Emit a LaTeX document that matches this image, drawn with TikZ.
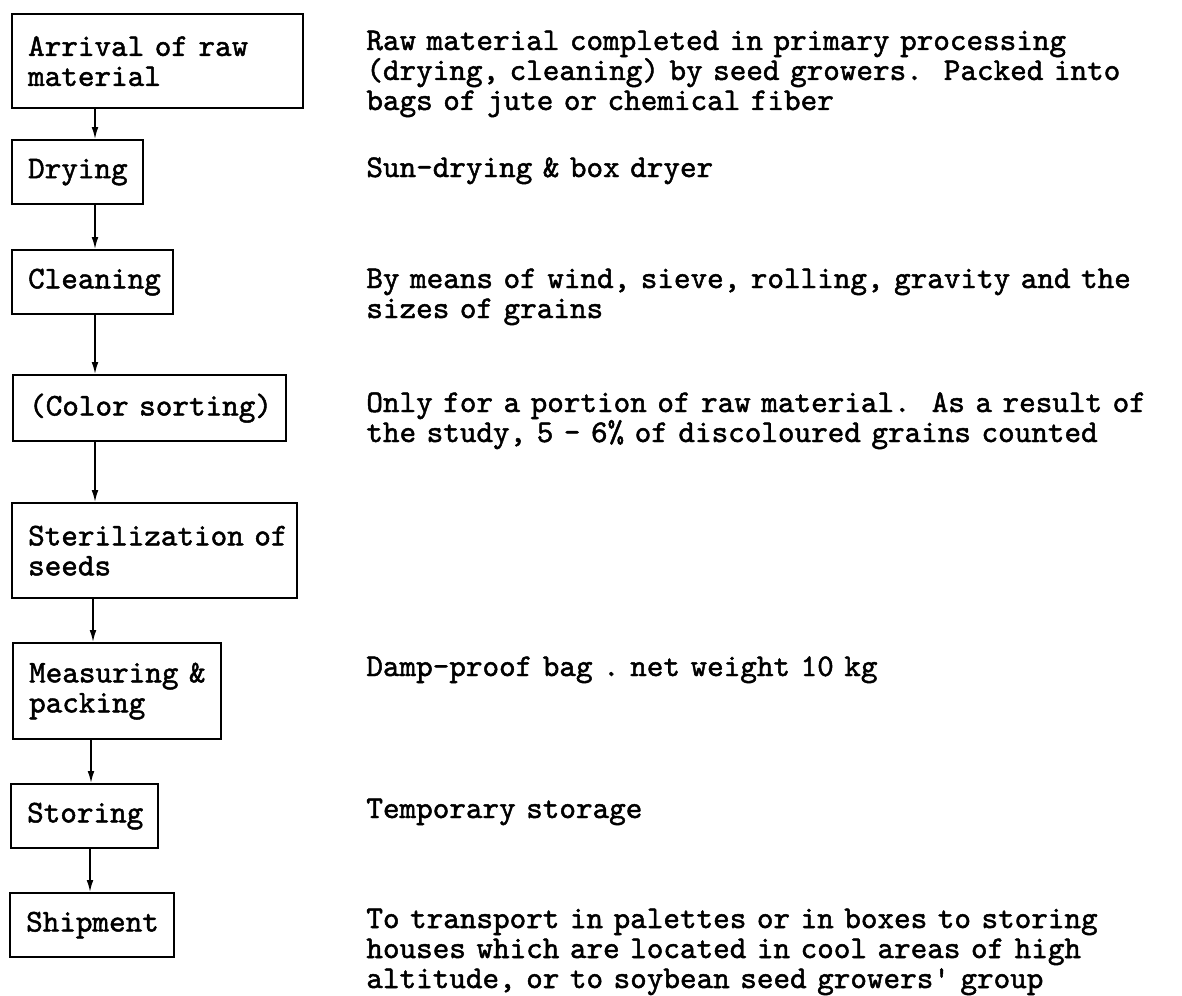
\documentclass[tikz,border=0pt]{standalone}
\usepackage{fontspec}
\usetikzlibrary{arrows.meta}
\newfontfamily\twfont{lmmono10-regular.otf}[FakeBold=1.5]
\newcommand\procfont{\fontsize{15.8}{15}\selectfont\twfont\frenchspacing}
\begin{document}
\begin{tikzpicture}[x=0.5pt,y=-0.5pt,
  stage/.style={draw, line width=1.15pt, anchor=north west, inner xsep=8pt,
    inner ysep=0pt, align=left, font=\procfont},
  note/.style={anchor=base west, inner sep=0pt, align=left, text width=420pt,
    font=\procfont},
  flow/.style={line width=0.8pt, -{Latex[length=6pt,width=3.4pt]}}]
\fill[white] (0,0) rectangle (1182,995);
\useasboundingbox (0,0) rectangle (1182,995);

% process stages (each line kept whole with \mbox)
\node[stage, minimum width=145.5pt, minimum height=47pt, text width=129.5pt] (b1) at (11,13) {\mbox{Arrival of raw}\\\mbox{material}};
\node[stage, minimum width=65.5pt, minimum height=32pt, text width=49.5pt] (b2) at (11,139) {\mbox{Drying}};
\node[stage, minimum width=80.5pt, minimum height=32pt, text width=64.5pt] (b3) at (11,249) {\mbox{Cleaning}};
\node[stage, minimum width=136.5pt, minimum height=33pt, text width=120.5pt] (b4) at (12,374) {\mbox{(Color sorting)}};
\node[stage, minimum width=142.5pt, minimum height=47.5pt, text width=126.5pt] (b5) at (11,502) {\mbox{Sterilization of}\\\mbox{seeds}};
\node[stage, minimum width=104pt, minimum height=48pt, text width=88pt] (b6) at (12,642) {\mbox{Measuring \&}\\\mbox{packing}};
\node[stage, minimum width=73.5pt, minimum height=32pt, text width=57.5pt] (b7) at (10,783) {\mbox{Storing}};
\node[stage, minimum width=82pt, minimum height=32pt, text width=66pt] (b8) at (9,892) {\mbox{Shipment}};

% flow between stages
\draw[flow] ([xshift=42pt]b1.south west) coordinate (a1) -- (a1 |- b2.north);
\draw[flow] ([xshift=42pt]b2.south west) coordinate (a2) -- (a2 |- b3.north);
\draw[flow] ([xshift=42pt]b3.south west) coordinate (a3) -- (a3 |- b4.north);
\draw[flow] ([xshift=41.5pt]b4.south west) coordinate (a4) -- (a4 |- b5.north);
\draw[flow] ([xshift=41pt]b5.south west) coordinate (a5) -- (a5 |- b6.north);
\draw[flow] ([xshift=39.5pt]b6.south west) coordinate (a6) -- (a6 |- b7.north);
\draw[flow] ([xshift=40pt]b7.south west) coordinate (a7) -- (a7 |- b8.north);

% remarks on each stage
\node[note] (n1) at (366,50) {Raw material completed in primary processing\\(drying, cleaning) by seed growers.\ \ Packed into\\bags of jute or chemical fiber};
\node[note] (n2) at (366,177) {Sun-drying \& box dryer};
\node[note] (n3) at (366,288) {By means of wind, sieve, rolling, gravity and the\\sizes of grains};
\node[note] (n4) at (366,412) {Only for a portion of raw material.\ \ As a result of\\the study, 5 - 6\% of discoloured grains counted};
\node[note] (n6) at (366,676) {Damp-proof bag . net weight 10 kg};
\node[note] (n7) at (366,818) {Temporary storage};
\node[note] (n8) at (366,928) {To transport in palettes or in boxes to storing\\houses which are located in cool areas of high\\altitude, or to soybean seed growers' group};
\end{tikzpicture}
\end{document}
